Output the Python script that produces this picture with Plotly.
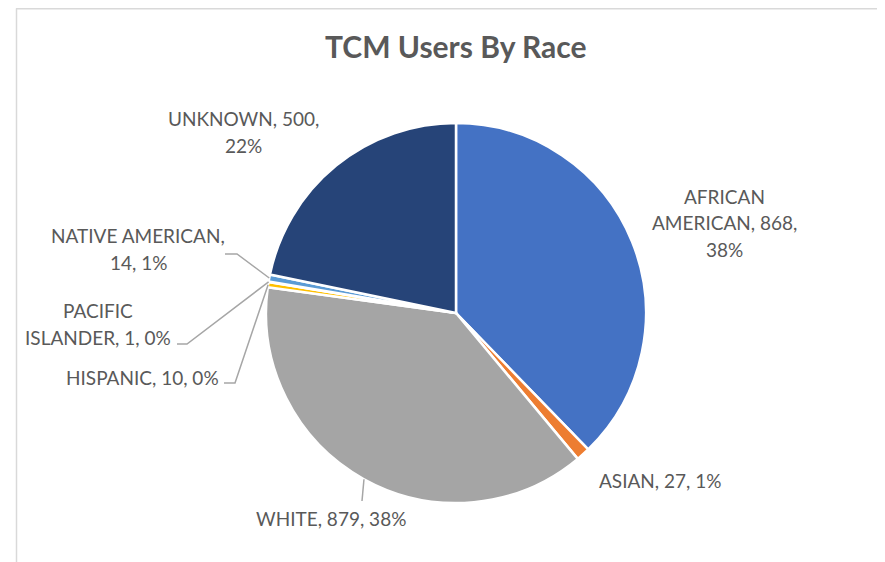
import plotly.graph_objects as go
import math

# ---- data ----
categories = ["AFRICAN AMERICAN", "ASIAN", "WHITE", "HISPANIC",
              "PACIFIC ISLANDER", "NATIVE AMERICAN", "UNKNOWN"]
values = [868, 27, 879, 10, 1, 14, 500]
colors = ["#4472C4", "#ED7D31", "#A5A5A5", "#FFC000",
          "#70AD47", "#5B9BD5", "#264478"]
title_text = "TCM Users By Race"

# ---- layout constants (screen pixels) ----
OFF = 8                      # page body margin
W, H = 885 - OFF, 562 - OFF  # figure size so it fits the window
CX, CY, R = 456, 313, 190
FONT = "Lato"
TXT = "#595959"
LINE = "#A6A6A6"
LH = 26.5                    # label line height

def px(x):
    return (x - OFF) / W

def py(y):
    return 1 - (y - OFF) / H

total = sum(values)
pcts = [round(v / total * 100) for v in values]

# label text lines, as broken in the reference
line_fmt = {
    "AFRICAN AMERICAN": ["AFRICAN", "AMERICAN, {v},", "{p}%"],
    "ASIAN": ["ASIAN, {v}, {p}%"],
    "WHITE": ["WHITE, {v}, {p}%"],
    "HISPANIC": ["HISPANIC, {v}, {p}%"],
    "PACIFIC ISLANDER": ["PACIFIC", "ISLANDER, {v}, {p}%"],
    "NATIVE AMERICAN": ["NATIVE AMERICAN,", "{v}, {p}%"],
    "UNKNOWN": ["UNKNOWN, {v},", "{p}%"],
}
# label block centres (px)
label_pos = {
    "AFRICAN AMERICAN": (724, 223),
    "ASIAN": (660, 480),
    "WHITE": (331, 518),
    "HISPANIC": (142, 377),
    "PACIFIC ISLANDER": (98, 324),
    "NATIVE AMERICAN": (138, 249),
    "UNKNOWN": (243, 132),
}
leaders = {
    "WHITE": [(362, 501)],
    "HISPANIC": [(235, 383), (224, 383)],
    "PACIFIC ISLANDER": [(187, 344), (177, 344)],
    "NATIVE AMERICAN": [(237, 254), (225, 254)],
}

fig = go.Figure(go.Pie(
    labels=categories,
    values=values,
    sort=False,
    direction="clockwise",
    rotation=0,
    marker=dict(colors=colors, line=dict(color="white", width=2.5)),
    textinfo="none",
    hoverinfo="label+value+percent",
    domain=dict(x=[px(CX - R), px(CX + R)], y=[py(CY + R), py(CY - R)]),
    showlegend=False,
))

annotations = []
shapes = []

# chart-area frame (left and top edges)
shapes.append(dict(type="line", xref="paper", yref="paper",
                   x0=px(16.5), x1=px(16.5), y0=py(8.5), y1=py(H + 20),
                   line=dict(color="#D9D9D9", width=1.5)))
shapes.append(dict(type="line", xref="paper", yref="paper",
                   x0=px(16), x1=px(W + 20), y0=py(8.8), y1=py(8.8),
                   line=dict(color="#D9D9D9", width=1.5)))

cum = 0
for cat, v, p in zip(categories, values, pcts):
    mid = (cum + v / 2) / total * 2 * math.pi
    cum += v
    lx, ly = label_pos[cat]
    lines = line_fmt[cat]
    n = len(lines)
    for i, t in enumerate(lines):
        yy = ly + (i - (n - 1) / 2) * LH
        annotations.append(dict(
            x=px(lx), y=py(yy), xref="paper", yref="paper",
            text=t.format(v=v, p=p), showarrow=False,
            xanchor="center", yanchor="middle", align="center",
            font=dict(family=FONT, size=19, color=TXT),
        ))
    if cat in leaders:
        sx = CX + R * math.sin(mid)
        sy = CY - R * math.cos(mid)
        pts = [(sx, sy)] + leaders[cat]
        path = "M " + " L ".join(f"{px(a):.5f},{py(b):.5f}" for a, b in pts)
        shapes.append(dict(type="path", xref="paper", yref="paper",
                           path=path, line=dict(color=LINE, width=1.5)))

annotations.append(dict(
    x=px(456), y=py(46), xref="paper", yref="paper",
    text="<b>" + title_text + "</b>", showarrow=False,
    xanchor="center", yanchor="middle",
    font=dict(family=FONT, size=30, color=TXT),
))

fig.update_layout(
    width=W, height=H,
    margin=dict(l=0, r=0, t=0, b=0),
    paper_bgcolor="white",
    plot_bgcolor="white",
    annotations=annotations,
    shapes=shapes,
)

fig.write_html("out.html")
